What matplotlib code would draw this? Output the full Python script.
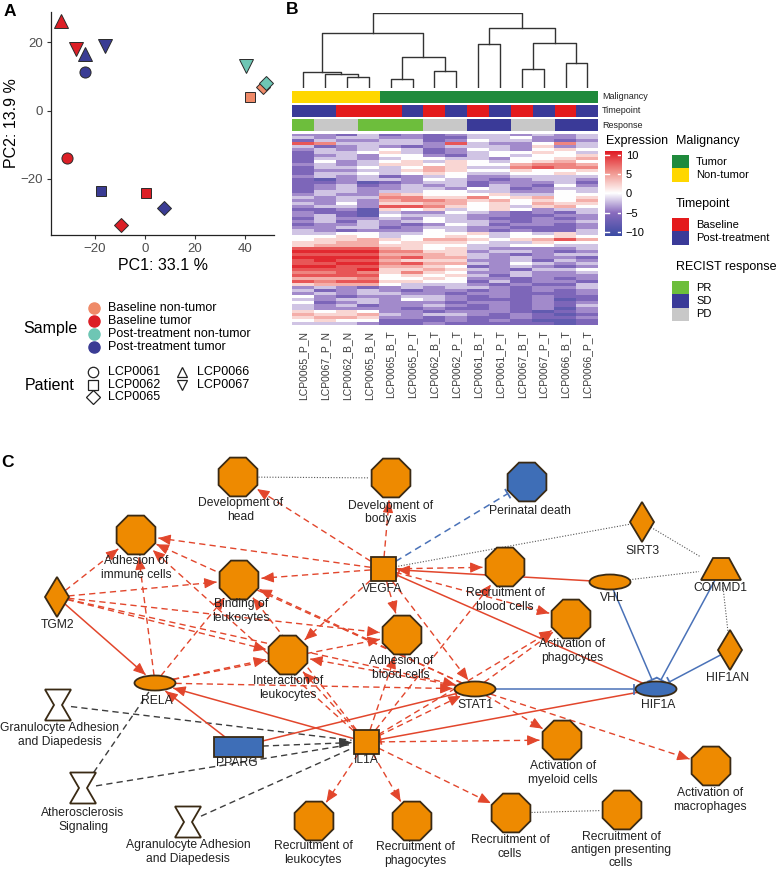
import numpy as np
import matplotlib.pyplot as plt
from matplotlib.patches import RegularPolygon, Rectangle, Ellipse, Polygon
from matplotlib.colors import LinearSegmentedColormap

plt.rcParams['font.family'] = ['Liberation Sans', 'DejaVu Sans']

# ---------------- data ----------------
# panel A: PCA
pc_patient = ['LCP0066', 'LCP0067', 'LCP0066', 'LCP0067', 'LCP0061', 'LCP0067', 'LCP0065',
              'LCP0065', 'LCP0062', 'LCP0061', 'LCP0062', 'LCP0062', 'LCP0065', 'LCP0065']
pc_group = ['Baseline tumor', 'Baseline tumor', 'Post-treatment tumor', 'Post-treatment tumor',
            'Post-treatment tumor', 'Post-treatment non-tumor', 'Baseline non-tumor',
            'Post-treatment non-tumor', 'Baseline non-tumor', 'Baseline tumor',
            'Post-treatment tumor', 'Baseline tumor', 'Post-treatment tumor', 'Baseline tumor']
pc1 = [-33.6, -27.6, -24.0, -16.0, -24.0, 40.3, 47.2, 48.3, 42.1, -31.2, -17.6, 0.4, 7.6, -9.6]
pc2 = [26.3, 18.2, 16.6, 19.0, 11.4, 13.2, 6.8, 8.0, 4.1, -13.9, -23.5, -24.2, -28.5, -33.4]

groups = ['Baseline non-tumor', 'Baseline tumor', 'Post-treatment non-tumor', 'Post-treatment tumor']
group_colors = ['#EF8A68', '#DC1F26', '#6EC6B4', '#3A3C94']
patients = ['LCP0061', 'LCP0062', 'LCP0065', 'LCP0066', 'LCP0067']
patient_markers = ['o', 's', 'D', '^', 'v']
patient_ms = [8, 7.5, 7, 9.5, 9.5]

# panel B: heatmap
samples = ['LCP0065_P_N', 'LCP0067_P_N', 'LCP0062_B_N', 'LCP0065_B_N', 'LCP0065_B_T', 'LCP0065_P_T',
           'LCP0062_B_T', 'LCP0062_P_T', 'LCP0061_B_T', 'LCP0061_P_T', 'LCP0067_B_T', 'LCP0067_P_T',
           'LCP0066_B_T', 'LCP0066_P_T']
malignancy = ['Non-tumor'] * 4 + ['Tumor'] * 10
timepoint = ['Post-treatment', 'Post-treatment', 'Baseline', 'Baseline', 'Baseline', 'Post-treatment',
             'Baseline', 'Post-treatment', 'Baseline', 'Post-treatment', 'Baseline', 'Post-treatment',
             'Baseline', 'Post-treatment']
response = ['PR', 'PD', 'PD', 'PR', 'PR', 'PR', 'PD', 'PD', 'SD', 'SD', 'PD', 'PD', 'SD', 'SD']
mal_levels = ['Tumor', 'Non-tumor']
mal_colors = ['#1F8A3C', '#FFD700']
time_levels = ['Baseline', 'Post-treatment']
time_colors = ['#E41A1C', '#3A3A98']
resp_levels = ['PR', 'SD', 'PD']
resp_colors = ['#6DBE3C', '#3A3A98', '#C8C8C8']

# dendrogram merges (child a, child b, height); leaves are 0..13 in display order
linkage = [(2, 3, 1.47), (1, 14, 1.91), (0, 15, 2.22), (4, 5, 1.24), (6, 7, 2.31), (17, 18, 4.22),
           (16, 19, 7.33), (8, 9, 5.91), (10, 11, 2.53), (12, 13, 3.33), (22, 23, 6.0),
           (21, 24, 8.0), (20, 25, 10.0)]

# expression rows, one char per sample: a=-10 ... f=0 ... k=10
heat_rows = [
    "ddcecdcdeedede", "edeeddcceefdde", "ceddeecdfeedcd", "jieeeedjeddfie",
    "ecdedcdeeedgde", "dedefecdfedfgf", "ceefgecdeffgfe", "cdedffdcefeffg",
    "ceedeffeedffgh", "cfdefgegfefghf", "dedeggfgffhiih", "ceefefhgeeijii",
    "cddeeghgffgffg", "ceefefgfeeffgf", "dedecdefddeeee", "cbdeedfedcdeed",
    "ccdbcdeecdddec", "cdecdedecedcfd", "cdeddeedfecdee", "ceedeeffeeddfe",
    "deddhgfffgeeff", "edeeiiggifghfg", "ddedhiihghfgfh", "edfdgghhfgfhgg",
    "deedjjigfgeghf", "ccdbgfgefgfdee", "dccbeddfedcdce", "decbfeeeddccdd",
    "ceddedfedccdcd", "decedefeedcdde", "cddedcdfecddcd", "ddeecdeeddcccd",
    "edcdddfedcdcce", "eeffeeffgefege", "ffgfeffgfeffgf", "fgghgfhhgfghjh",
    "gghhfgggfeegff", "ghhhggffeeffee", "jjjjhgfgedddde", "kkkkiiggdeedcd",
    "jjjjhhhgedcdee", "kkkkijhhededdc", "jkjjhgggddeced", "jjkkijhhedfede",
    "kkjjhhgfcdedcd", "jjjkgghgedceef", "iijigigfddedde", "jjjjfgfgeceddd",
    "hhhiffgfddcdcd", "jijjggffcecddc", "ghhhfeeedcdcce", "dedcdedeedcdde",
    "ecdedcddcdcdcd", "dedeeddcddcccd", "fdcddeedcdcdcc", "edeedfedcccdbc",
    "fcdedddcddcdcd", "edecddedcdcdce", "eddddcdccdcdbd", "gfgfddcdddcbcd",
    "hgghedeedcdcbc", "ghhgddcdccdccd", "fgffcccdcdcbbc", "eeedccdcccccbc",
]

# panel C: network
node_ids = ['head', 'body', 'perinatal', 'adh_imm', 'binding', 'VEGFA', 'rec_blood', 'SIRT3', 'VHL',
            'COMMD1', 'TGM2', 'act_phago', 'adh_blood', 'interact', 'RELA', 'STAT1', 'HIF1A',
            'HIF1AN', 'granulo', 'PPARG', 'IL1A', 'athero', 'agranulo', 'rec_leuk', 'rec_phago',
            'act_myeloid', 'act_macro', 'rec_cells', 'rec_apc']
node_label = ['Development of\nhead', 'Development of\nbody axis', 'Perinatal death',
              'Adhesion of\nimmune cells', 'Binding of\nleukocytes', 'VEGFA',
              'Recruitment of\nblood cells', 'SIRT3', 'VHL', 'COMMD1', 'TGM2',
              'Activation of\nphagocytes', 'Adhesion of\nblood cells', 'Interaction of\nleukocytes',
              'RELA', 'STAT1', 'HIF1A', 'HIF1AN', 'Granulocyte Adhesion\nand Diapedesis', 'PPARG',
              'IL1A', 'Atherosclerosis\nSignaling', 'Agranulocyte Adhesion\nand Diapedesis',
              'Recruitment of\nleukocytes', 'Recruitment of\nphagocytes', 'Activation of\nmyeloid cells',
              'Activation of\nmacrophages', 'Recruitment of\ncells',
              'Recruitment of\nantigen presenting\ncells']
node_x = [238, 391, 527, 136, 239, 383, 505, 642, 610, 721, 57, 571, 402, 288, 155, 475, 656, 730,
          58, 238, 366, 83, 188, 314, 412, 562, 711, 511, 622]
node_y = [477, 478, 482, 535, 580, 569, 567, 522, 582, 569, 597, 619, 635, 655, 683, 689, 689, 650,
          705, 747, 742, 788, 822, 821, 821, 740, 766, 813, 810]
node_shape = ['oct', 'oct', 'oct', 'oct', 'oct', 'square', 'oct', 'diamond', 'ellipse', 'trapezoid',
              'diamond', 'oct', 'oct', 'oct', 'ellipse', 'ellipse', 'ellipse', 'diamond', 'hourglass',
              'rect', 'square', 'hourglass', 'hourglass', 'oct', 'oct', 'oct', 'oct', 'oct', 'oct']
node_state = ['up', 'up', 'down', 'up', 'up', 'up', 'up', 'up', 'up', 'up', 'up', 'up', 'up', 'up',
              'up', 'up', 'down', 'up', 'path', 'down', 'up', 'path', 'path', 'up', 'up', 'up', 'up',
              'up', 'up']
label_x = [241, 391, 530, 136, 241, 382, 505, 642, 612, 720, 58, 572, 401, 288, 157, 475, 658, 728,
           60, 237, 366, 83, 188, 313, 415, 563, 710, 510, 621]
label_y = [510, 512.5, 511, 568, 611, 589, 600, 551, 598, 588, 625, 651, 668, 688, 701, 705, 705, 678,
           735, 763, 760, 820, 852, 853, 854, 773, 800, 847, 850]

edges_dotted = [('head', 'body'), ('VEGFA', 'SIRT3'), ('SIRT3', 'COMMD1'), ('VHL', 'COMMD1'),
                ('COMMD1', 'HIF1AN'), ('rec_cells', 'rec_apc')]
edges_blue_dash_inh = [('VEGFA', 'perinatal')]
edges_blue_inh = [('STAT1', 'HIF1A'), ('VHL', 'HIF1A'), ('COMMD1', 'HIF1A'), ('HIF1AN', 'HIF1A')]
edges_red_act = [('VHL', 'VEGFA'), ('TGM2', 'RELA'), ('PPARG', 'RELA'), ('IL1A', 'RELA')]
edges_red_inh = [('HIF1A', 'VEGFA'), ('HIF1A', 'IL1A'), ('PPARG', 'STAT1')]
edges_grey = [('granulo', 'IL1A'), ('athero', 'IL1A'), ('agranulo', 'IL1A'), ('athero', 'RELA')]
edges_grey_act = [('PPARG', 'IL1A')]
edges_red_dash = [
    ('VEGFA', 'head'), ('VEGFA', 'body'), ('VEGFA', 'adh_imm'), ('VEGFA', 'binding'),
    ('VEGFA', 'interact'), ('VEGFA', 'adh_blood'), ('VEGFA', 'rec_blood'), ('VEGFA', 'act_phago'),
    ('VEGFA', 'STAT1'),
    ('TGM2', 'adh_imm'), ('TGM2', 'binding'), ('TGM2', 'interact'), ('TGM2', 'adh_blood'),
    ('TGM2', 'STAT1'),
    ('RELA', 'adh_imm'), ('RELA', 'binding'), ('RELA', 'interact'), ('RELA', 'adh_blood'),
    ('RELA', 'STAT1'),
    ('IL1A', 'adh_imm'), ('IL1A', 'binding'), ('IL1A', 'interact'), ('IL1A', 'adh_blood'),
    ('IL1A', 'act_phago'), ('IL1A', 'STAT1'), ('IL1A', 'act_myeloid'), ('IL1A', 'rec_leuk'),
    ('IL1A', 'rec_phago'), ('IL1A', 'rec_cells'), ('IL1A', 'rec_blood'),
    ('STAT1', 'adh_imm'), ('STAT1', 'binding'), ('STAT1', 'interact'), ('STAT1', 'act_phago'),
    ('STAT1', 'act_myeloid'), ('STAT1', 'act_macro'),
]

# ---------------- figure ----------------
W, H = 777, 871
fig = plt.figure(figsize=(W / 100, H / 100), dpi=100)


def px_axes(x0, y0, x1, y1):
    return fig.add_axes([x0 / W, 1 - y1 / H, (x1 - x0) / W, (y1 - y0) / H])


ax0 = px_axes(0, 0, W, H)
ax0.set_xlim(0, W)
ax0.set_ylim(H, 0)
ax0.axis('off')

ax0.text(10, 11, 'A', fontsize=12.5, fontweight='bold', ha='center', va='center')
ax0.text(292, 9, 'B', fontsize=12.5, fontweight='bold', ha='center', va='center')
ax0.text(8, 462, 'C', fontsize=12.5, fontweight='bold', ha='center', va='center')

# ---- panel A ----
axA = px_axes(51, 12, 274, 235)
gcol = dict(zip(groups, group_colors))
pmark = dict(zip(patients, patient_markers))
pms = dict(zip(patients, patient_ms))
for i in range(len(pc1)):
    axA.plot(pc1[i], pc2[i], marker=pmark[pc_patient[i]], ms=pms[pc_patient[i]],
             mfc=gcol[pc_group[i]], mec='#2a2a2a', mew=0.7, ls='none', clip_on=False)
axA.set_xlim(-37.6, 51.5)
axA.set_ylim(-36.4, 28.9)
axA.spines['top'].set_visible(False)
axA.spines['right'].set_visible(False)
for s in ['left', 'bottom']:
    axA.spines[s].set_color('#222222')
    axA.spines[s].set_linewidth(0.9)
axA.set_xticks([-20, 0, 20, 40])
axA.set_yticks([-20, 0, 20])
axA.tick_params(labelsize=9.5, labelcolor='#4d4d4d', length=3, color='#333333', width=0.8, pad=3)
axA.set_xlabel('PC1: 33.1 %', fontsize=11.5, labelpad=2)
axA.set_ylabel('PC2: 13.9 %', fontsize=11.5, labelpad=1)

# PCA legend
ax0.text(23, 328, 'Sample', fontsize=11.5, ha='left', va='center')
for k, (g, c) in enumerate(zip(groups, group_colors)):
    yy = 308 + 13 * k
    ax0.plot(94, yy, 'o', ms=8, mfc=c, mec=c, ls='none')
    ax0.text(108, yy, g, fontsize=9, ha='left', va='center')
ax0.text(25, 385, 'Patient', fontsize=11.5, ha='left', va='center')
for k, (p, m) in enumerate(zip(patients, patient_markers)):
    col, row = divmod(k, 3)
    yy = 372 + 12.7 * row
    xx = 93 + 89 * col
    ax0.plot(xx, yy, m, ms=7.5, mfc='none', mec='#222222', mew=0.9, ls='none')
    ax0.text(xx + 15, yy, p, fontsize=9, ha='left', va='center')

# ---- panel B ----
hx0, hx1 = 292.3, 598.3
ncol = len(samples)

# dendrogram
axD = px_axes(hx0, 13.3, hx1, 88.3)
xpos = {i: i + 0.5 for i in range(ncol)}
ht = {i: 0.0 for i in range(ncol)}
for k, (a, b, h) in enumerate(linkage):
    nid = ncol + k
    axD.plot([xpos[a], xpos[a], xpos[b], xpos[b]], [ht[a], h, h, ht[b]], color='#333333', lw=1.0)
    xpos[nid] = (xpos[a] + xpos[b]) / 2
    ht[nid] = h
axD.set_xlim(0, ncol)
axD.set_ylim(0, 10)
axD.axis('off')

# annotation bars
axN = px_axes(hx0, 90.7, hx1, 130.7)
ann_rows = [(malignancy, dict(zip(mal_levels, mal_colors))),
            (timepoint, dict(zip(time_levels, time_colors))),
            (response, dict(zip(resp_levels, resp_colors)))]
for r, (vals, cmap_d) in enumerate(ann_rows):
    axN.bar(np.arange(ncol) + 0.5, 12, bottom=r * 14.15, width=1.0,
            color=[cmap_d[v] for v in vals], linewidth=0)
axN.set_xlim(0, ncol)
axN.set_ylim(40, 0)
axN.axis('off')
for r, name in enumerate(['Malignancy', 'Timepoint', 'Response']):
    ax0.text(602, 96.7 + r * 14.15, name, fontsize=6.5, ha='left', va='center', color='#222222')

# heatmap body
levels = 'abcdefghijk'
expr = np.array([[(levels.index(ch) - 5) * 2 for ch in row] for row in heat_rows], float)
cmap = LinearSegmentedColormap.from_list(
    'expr', [(0, '#3B4BA3'), (0.27, '#8A6CBE'), (0.5, '#FFFFFF'), (0.75, '#F0918A'), (1, '#E0141E')])
axH = px_axes(hx0, 134, hx1, 325)
axH.imshow(expr, cmap=cmap, vmin=-11, vmax=11, aspect='auto', interpolation='nearest',
           extent=(0, ncol, len(heat_rows), 0))
axH.set_xticks(np.arange(ncol) + 0.5)
axH.set_xticklabels(samples, rotation=90, fontsize=7.5, color='#3a3a3a')
axH.tick_params(length=0, pad=4)
axH.set_yticks([])
for s in axH.spines.values():
    s.set_visible(False)

# colour bar
axC = px_axes(605, 150.7, 621.5, 236)
grad = np.linspace(-11, 11, 256).reshape(-1, 1)
axC.imshow(grad, cmap=cmap, vmin=-11, vmax=11, aspect='auto', origin='lower', extent=(0, 1, -11, 11))
cb_ticks = [-10, -5, 0, 5, 10]
for v in cb_ticks:
    axC.plot([0, 0.22], [v, v], color='white', lw=1)
    axC.plot([0.78, 1], [v, v], color='white', lw=1)
axC.set_xlim(0, 1)
axC.set_ylim(-11, 11)
axC.set_xticks([])
axC.yaxis.tick_right()
axC.set_yticks(cb_ticks)
axC.set_yticklabels(['\u221210', '\u22125', '0', '5', '10'])
axC.tick_params(length=0, labelsize=8, pad=3)
for s in axC.spines.values():
    s.set_visible(False)
ax0.text(606, 141, 'Expression', fontsize=9, ha='left', va='center')

# discrete legends
leg_blocks = [('Malignancy', 141, mal_levels, mal_colors),
              ('Timepoint', 204, time_levels, time_colors),
              ('RECIST response', 267, resp_levels, resp_colors)]
for title, ty, labs, cols in leg_blocks:
    ax0.text(676, ty, title, fontsize=9, ha='left', va='center')
    for k, (lab, c) in enumerate(zip(labs, cols)):
        y0 = ty + 14 + 13.3 * k
        ax0.add_patch(Rectangle((672, y0), 17, 13.3, fc=c, ec='none'))
        ax0.text(696, y0 + 6.6, lab, fontsize=8, ha='left', va='center')

# ---- panel C ----
ORANGE = '#EE8A00'
BLUE = '#3E6EB7'
RED = '#E2462C'
NODE_EC = '#3a2a14'
size = {'oct': (42, 42), 'square': (25, 24), 'diamond': (24, 40), 'ellipse': (41, 15),
        'trapezoid': (40, 22), 'hourglass': (26, 31), 'rect': (49, 20)}
pos = {n: np.array([x, y], float) for n, x, y in zip(node_ids, node_x, node_y)}
shp = dict(zip(node_ids, node_shape))


def boundary(n, u):
    s = shp[n]
    a, b = size[s][0] / 2, size[s][1] / 2
    ux, uy = abs(u[0]) + 1e-9, abs(u[1]) + 1e-9
    if s == 'oct':
        return 20.5
    if s == 'ellipse':
        return 1 / np.hypot(ux / a, uy / b)
    if s == 'diamond':
        return 1 / (ux / a + uy / b)
    return min(a / ux, b / uy)


def draw_edge(src, tgt, color, ls, lw, end=None):
    p0, p1 = pos[src], pos[tgt]
    d = p1 - p0
    u = d / np.hypot(*d)
    a = p0 + u * boundary(src, u)
    b = p1 - u * (boundary(tgt, u) + 2)
    ax0.plot([a[0], b[0]], [a[1], b[1]], color=color, lw=lw, ls=ls, zorder=1,
             solid_capstyle='butt', dash_capstyle='butt')
    if end == 'arrow':
        ax0.annotate('', xy=b, xytext=b - u * 6,
                     arrowprops=dict(arrowstyle='-|>,head_length=0.75,head_width=0.32', color=color,
                                     lw=0.8, shrinkA=0, shrinkB=0, mutation_scale=10), zorder=2)
    elif end == 'bar':
        v = np.array([-u[1], u[0]]) * 4.5
        ax0.plot([b[0] - v[0], b[0] + v[0]], [b[1] - v[1], b[1] + v[1]], color=color, lw=lw + 0.2,
                 zorder=2)


for s, t in edges_dotted:
    draw_edge(s, t, '#555555', (0, (1, 1.5)), 0.8)
for s, t in edges_red_dash:
    draw_edge(s, t, RED, (0, (4.5, 3)), 1.0, 'arrow')
for s, t in edges_grey:
    draw_edge(s, t, '#3d3d3d', (0, (4.5, 3)), 1.0)
for s, t in edges_grey_act:
    draw_edge(s, t, '#3d3d3d', (0, (4.5, 3)), 1.0, 'arrow')
for s, t in edges_red_act:
    draw_edge(s, t, RED, '-', 1.1, 'arrow')
for s, t in edges_red_inh:
    draw_edge(s, t, RED, '-', 1.1, 'bar')
for s, t in edges_blue_inh:
    draw_edge(s, t, '#4A72B8', '-', 1.1, 'bar')
for s, t in edges_blue_dash_inh:
    draw_edge(s, t, '#4A72B8', (0, (4.5, 3)), 1.1, 'bar')

fill_of = {'up': ORANGE, 'down': BLUE, 'path': 'white'}
for n, st, lab, lx, ly in zip(node_ids, node_state, node_label, label_x, label_y):
    x, y = pos[n]
    s = shp[n]
    w, h = size[s]
    kw = dict(fc=fill_of[st], ec=NODE_EC, lw=1.3, zorder=3)
    if s == 'oct':
        p = RegularPolygon((x, y), 8, radius=21, orientation=np.pi / 8, **kw)
    elif s in ('square', 'rect'):
        p = Rectangle((x - w / 2, y - h / 2), w, h, **kw)
    elif s == 'ellipse':
        p = Ellipse((x, y), w, h, **kw)
    elif s == 'diamond':
        p = Polygon([(x, y - h / 2), (x + w / 2, y), (x, y + h / 2), (x - w / 2, y)], **kw)
    elif s == 'trapezoid':
        p = Polygon([(x - 8, y - h / 2), (x + 8, y - h / 2), (x + w / 2, y + h / 2),
                     (x - w / 2, y + h / 2)], **kw)
    else:
        p = Polygon([(x - w / 2, y - h / 2), (x + w / 2, y - h / 2), (x + 4, y),
                     (x + w / 2, y + h / 2), (x - w / 2, y + h / 2), (x - 4, y)], **kw)
    ax0.add_patch(p)
    ax0.text(lx, ly, lab, fontsize=8.7, ha='center', va='center', color='#222222',
             linespacing=1.15, zorder=4)

fig.savefig('out.png', dpi=100)
